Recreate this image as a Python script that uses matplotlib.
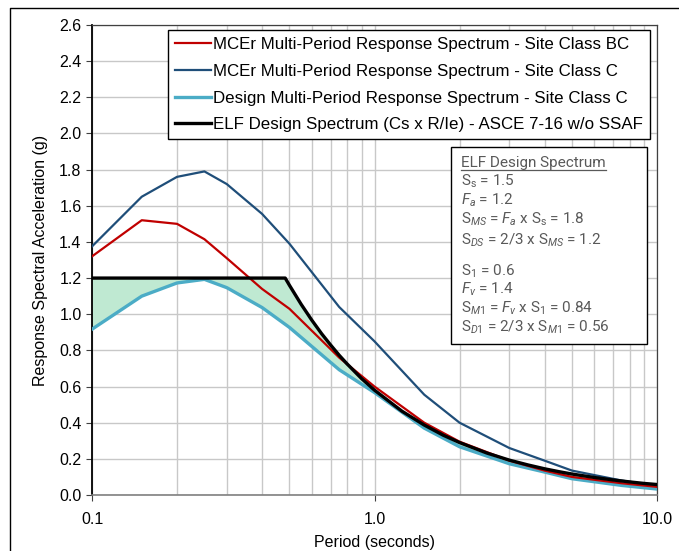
import numpy as np
import matplotlib.pyplot as plt
from matplotlib.patches import Rectangle
from matplotlib.lines import Line2D

plt.rcParams['font.family'] = ['Liberation Sans', 'DejaVu Sans']
plt.rcParams['mathtext.fontset'] = 'custom'
plt.rcParams['mathtext.rm'] = 'Roboto'
plt.rcParams['mathtext.it'] = 'Roboto:italic'

# multi-period spectra (periods in s, accel in g)
periods = [0.1, 0.15, 0.2, 0.25, 0.3, 0.4, 0.5, 0.75, 1.0, 1.5, 2.0, 3.0, 4.0, 5.0, 7.5, 10.0]
mcer_bc = [1.32, 1.52, 1.50, 1.415, 1.31, 1.14, 1.03, 0.76, 0.60, 0.40, 0.295, 0.19, 0.135, 0.10, 0.065, 0.045]
mcer_c = [1.375, 1.65, 1.76, 1.79, 1.72, 1.555, 1.39, 1.04, 0.85, 0.555, 0.40, 0.26, 0.19, 0.135, 0.08, 0.05]
design_c = [0.917, 1.10, 1.173, 1.193, 1.147, 1.037, 0.927, 0.693, 0.567, 0.37, 0.267, 0.173, 0.127, 0.09, 0.053, 0.033]

# ELF design spectrum
elf_t = [0.1, 0.2, 0.3, 0.4, 0.483, 0.5, 0.55, 0.6, 0.65, 0.7, 0.75, 0.8, 0.9, 1.0, 1.25, 1.5, 1.75,
         2.0, 2.5, 3.0, 3.5, 4.0, 4.5, 5.0, 6.0, 7.0, 8.0, 9.0, 10.0]
elf_sa = [1.2, 1.2, 1.2, 1.2, 1.2, 1.16, 1.055, 0.967, 0.892, 0.829, 0.773, 0.725, 0.644, 0.58, 0.464, 0.387, 0.331,
          0.29, 0.232, 0.193, 0.166, 0.145, 0.129, 0.116, 0.097, 0.083, 0.0725, 0.064, 0.058]

labels = ["MCEr Multi-Period Response Spectrum - Site Class BC",
          "MCEr Multi-Period Response Spectrum - Site Class C",
          "Design Multi-Period Response Spectrum - Site Class C",
          "ELF Design Spectrum (Cs x R/Ie) - ASCE 7-16 w/o SSAF"]

box_lines = [r"$\mathrm{S_s}$ = 1.5",
             r"$F_a$ = 1.2",
             r"$\mathrm{S}_{MS}$ = $F_a$ x $\mathrm{S_s}$ = 1.8",
             r"$\mathrm{S}_{DS}$ = 2/3 x $\mathrm{S}_{MS}$ = 1.2",
             "",
             r"$\mathrm{S_1}$ = 0.6",
             r"$F_v$ = 1.4",
             r"$\mathrm{S}_{M1}$ = $F_v$ x $\mathrm{S_1}$ = 0.84",
             r"$\mathrm{S}_{D1}$ = 2/3 x $\mathrm{S}_{M1}$ = 0.56"]

W, H = 679, 551
fig = plt.figure(figsize=(W / 100, H / 100), dpi=100)
ax = fig.add_axes([92 / W, 1 - 495 / H, 565 / W, 470 / H])

# green fill between ELF and design spectrum
tt = np.logspace(-1, 1, 400)
elf_i = np.interp(np.log10(tt), np.log10(elf_t), elf_sa)
des_i = np.interp(np.log10(tt), np.log10(periods), design_c)
ax.fill_between(tt, des_i, elf_i, where=elf_i > des_i, color='#bfe9d2', lw=0, zorder=2)

ax.plot(periods, mcer_bc, color='#c00000', lw=1.6, label=labels[0], zorder=4)
ax.plot(periods, mcer_c, color='#1f4e79', lw=1.6, label=labels[1], zorder=3)
ax.plot(periods, design_c, color='#4bacc6', lw=2.4, label=labels[2], zorder=3)
ax.plot(elf_t, elf_sa, color='black', lw=2.4, label=labels[3], zorder=5)

ax.set_xscale('log')
ax.set_xlim(0.1, 10)
ax.set_ylim(0, 2.6)
ax.set_xticks([0.1, 1, 10])
ax.set_xticklabels(['0.1', '1.0', '10.0'])
ax.set_xticks([i * 0.1 for i in range(2, 10)] + list(range(2, 10)), minor=True)
ax.set_xticklabels([], minor=True)
ax.set_yticks(np.arange(0, 2.61, 0.2))
ax.set_yticklabels([f"{v:.1f}" for v in np.arange(0, 2.61, 0.2)])

ax.grid(True, which='both', axis='x', color='#c8c8c8', lw=1.0, zorder=0)
ax.grid(True, which='major', axis='y', color='#c8c8c8', lw=1.0, zorder=0)
ax.set_axisbelow(True)
ax.tick_params(axis='both', which='major', labelsize=11.5, length=4, direction='out', color='#404040')
ax.tick_params(axis='x', which='minor', length=0)
ax.tick_params(axis='x', pad=8)

for side in ['top', 'right']:
    ax.spines[side].set_color('#404040')
    ax.spines[side].set_linewidth(0.9)
ax.spines['left'].set_color('black')
ax.spines['left'].set_linewidth(1.3)
ax.spines['bottom'].set_color('#808080')
ax.spines['bottom'].set_linewidth(1.2)

ax.set_xlabel("Period (seconds)", fontsize=11.5, labelpad=6)
ax.set_ylabel("Response Spectral Acceleration (g)", fontsize=11.5, labelpad=8)

leg = ax.legend(loc='upper right', bbox_to_anchor=(650 / W, 1 - 30 / H), bbox_transform=fig.transFigure,
                borderaxespad=0, fontsize=12.2, handlelength=2.1, handletextpad=0.15, labelspacing=0.7,
                fancybox=False, framealpha=1, edgecolor='black', borderpad=0.4)
leg.get_frame().set_linewidth(1.0)
leg.set_zorder(10)

# ELF info box
def ax_y(py):
    return (495 - py) / 470

def ax_x(px):
    return (px - 92) / 565

ax.add_patch(Rectangle((ax_x(451), ax_y(344)), ax_x(647) - ax_x(451), ax_y(147) - ax_y(344),
                       transform=ax.transAxes, facecolor='white', edgecolor='black', lw=1.0, zorder=9))
title = ax.text(ax_x(461), ax_y(166.5), "ELF Design Spectrum", transform=ax.transAxes, fontsize=11,
                family='Roboto', color='#595959', va='baseline', zorder=11)
rows = [186, 204.5, 223.5, 245, None, 276, 293.5, 312.5, 332]
for line, py in zip(box_lines, rows):
    if py is None:
        continue
    ax.text(ax_x(461), ax_y(py), line, transform=ax.transAxes, fontsize=11, family='Roboto',
            color='#595959', va='baseline', zorder=11)

fig.canvas.draw()
bb = title.get_window_extent().transformed(fig.transFigure.inverted())
fig.add_artist(Line2D([bb.x0, bb.x1], [1 - 169.5 / H, 1 - 169.5 / H], color='#595959', lw=0.9,
                      transform=fig.transFigure, zorder=12))

# outer chart border
fig.add_artist(Line2D([10 / W, 10 / W, 1.0], [0, 1 - 8 / H, 1 - 8 / H], color='black', lw=1.0,
                      transform=fig.transFigure))

fig.savefig('out.png', dpi=100)
